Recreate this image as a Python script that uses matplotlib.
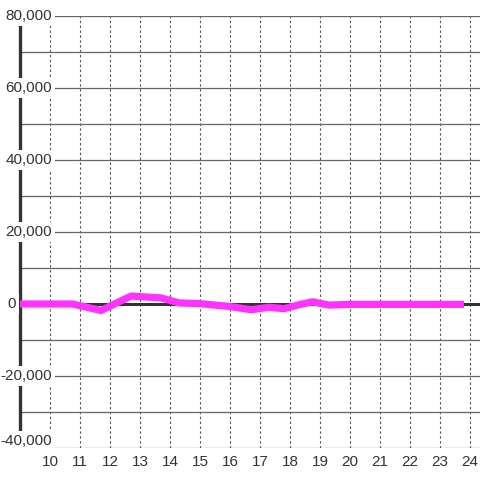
import matplotlib
matplotlib.use("Agg")
import matplotlib.pyplot as plt
import matplotlib.transforms as mtransforms

plt.rcParams['font.family'] = ['Liberation Sans', 'DejaVu Sans']

# data (hour of day, value)
hours = [9.0, 10.75, 11.7, 12.7, 13.7, 14.3, 15.0, 16.0, 16.7, 17.3, 17.8, 18.3, 18.75, 19.3, 20.0, 23.8]
values = [0, 0, -1800, 2200, 1700, 300, 100, -700, -1600, -900, -1300, -200, 600, -300, -100, -100]

x_ticks = list(range(10, 25))
y_ticks = list(range(-40000, 80001, 10000))
y_labels = {80000: "80,000", 60000: "60,000", 40000: "40,000", 20000: "20,000",
            0: "0", -20000: "-20,000", -40000: "-40,000"}

fig = plt.figure(figsize=(4.8, 4.8), dpi=100)
ax = fig.add_axes([20 / 480, 32 / 480, 460 / 480, 432 / 480])
ax.set_xlim(9, 9 + 460 / 30)
ax.set_ylim(-40000, 80000)

for s in ax.spines.values():
    s.set_visible(False)

# grid
ax.set_yticks(y_ticks)
ax.set_yticklabels([])
ax.set_xticks(x_ticks)
ax.grid(axis='y', color='#666666', lw=0.9, ls='-')
ax.grid(axis='x', color='#555555', lw=0.8, ls=(0, (2.2, 2.2)))
ax.tick_params(axis='both', length=0)
ax.tick_params(axis='x', pad=5, labelsize=11, labelcolor='#333333')
ax.tick_params(axis='y', left=False)

# left axis bar and zero line
ax.axvline(9, ymin=12 / 432, ymax=424 / 432, color='#333333', lw=2.4, clip_on=False, zorder=2)
ax.axhline(0, color='#333333', lw=2.2, zorder=2)

# y labels with white background
trans = mtransforms.blended_transform_factory(ax.transAxes, ax.transData)
for v, lab in y_labels.items():
    xpos = (52 - 20) / 460 if v != 0 else (16 - 20) / 460
    t = ax.text(xpos, v, lab, transform=trans, ha='right', va='center',
                fontsize=11, color='#333333', clip_on=False, zorder=4,
                bbox=dict(fc='white', ec='none', pad=2))
    if v == -40000:
        t.set_transform(trans + mtransforms.ScaledTranslation(0, 7 / 100, fig.dpi_scale_trans))

# series
ax.plot(hours, values, color='#ff33ff', lw=5.2, solid_capstyle='butt',
        solid_joinstyle='round', zorder=3, clip_on=False)

fig.savefig("out.png", dpi=100)
